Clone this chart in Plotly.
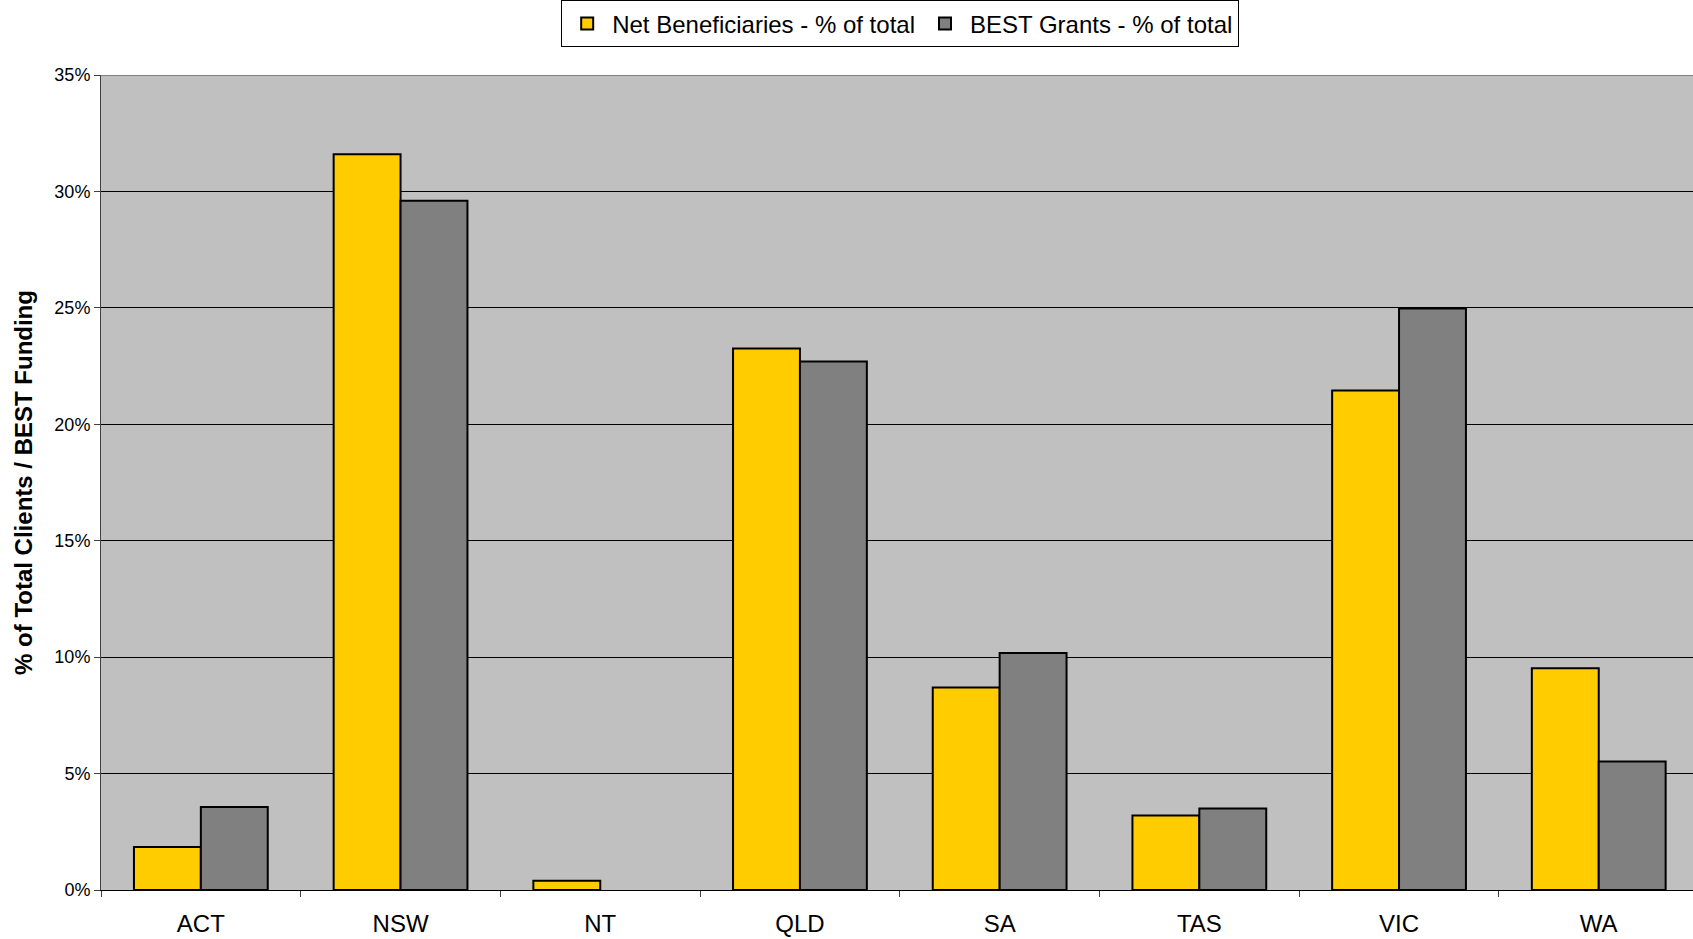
import plotly.graph_objects as go

categories = ["ACT", "NSW", "NT", "QLD", "SA", "TAS", "VIC", "WA"]
net_beneficiaries = [1.85, 31.6, 0.4, 23.25, 8.7, 3.2, 21.45, 9.52]
best_grants = [3.56, 29.6, None, 22.7, 10.18, 3.5, 24.97, 5.52]
y_ticks = [0, 5, 10, 15, 20, 25, 30, 35]

fig = go.Figure()
fig.add_trace(go.Bar(
    x=categories, y=net_beneficiaries, name="Net Beneficiaries - % of total",
    marker=dict(color="#FFCC00", line=dict(color="black", width=2)),
))
fig.add_trace(go.Bar(
    x=categories, y=best_grants, name="BEST Grants - % of total",
    marker=dict(color="#808080", line=dict(color="black", width=2)),
))

font_family = "Liberation Sans, Arial, sans-serif"

fig.update_layout(
    width=1693, height=939,
    margin=dict(l=101, r=0, t=75, b=49),
    paper_bgcolor="white",
    plot_bgcolor="#C0C0C0",
    barmode="group",
    bargap=0.33,
    bargroupgap=0,
    font=dict(family=font_family, color="black"),
    legend=dict(
        orientation="h",
        x=0.502, xanchor="center",
        y=1.0915, yanchor="top",
        bordercolor="black", borderwidth=1,
        bgcolor="white",
        font=dict(size=24, family=font_family),
        itemsizing="constant",
        itemwidth=40,
    ),
    showlegend=True,
)

fig.update_xaxes(
    range=[-0.5, 7.472],
    showgrid=False,
    showline=True, linecolor="black", linewidth=1,
    ticks="outside", tickson="boundaries", ticklen=6, tickcolor="#404040",
    tickfont=dict(size=24, family=font_family),
    ticklabelstandoff=12,
)
fig.update_yaxes(
    range=[0, 35],
    tickvals=y_ticks,
    ticktext=[f"{v}%" for v in y_ticks],
    showgrid=True, gridcolor="black", gridwidth=1,
    zeroline=False,
    showline=True, linecolor="#404040", linewidth=1,
    ticks="outside", ticklen=6, tickcolor="#404040",
    tickfont=dict(size=18, family=font_family),
    title=dict(text="<b>% of Total Clients / BEST Funding</b>",
               font=dict(size=24, family=font_family), standoff=14),
)

fig.add_shape(type="line", xref="paper", yref="y", x0=0, x1=1, y0=35, y1=35,
              line=dict(color="#808080", width=2))

fig.write_html(
    "out.html",
    config={"displayModeBar": False},
    post_script="document.body.style.margin='0';document.body.style.overflow='hidden';",
)
